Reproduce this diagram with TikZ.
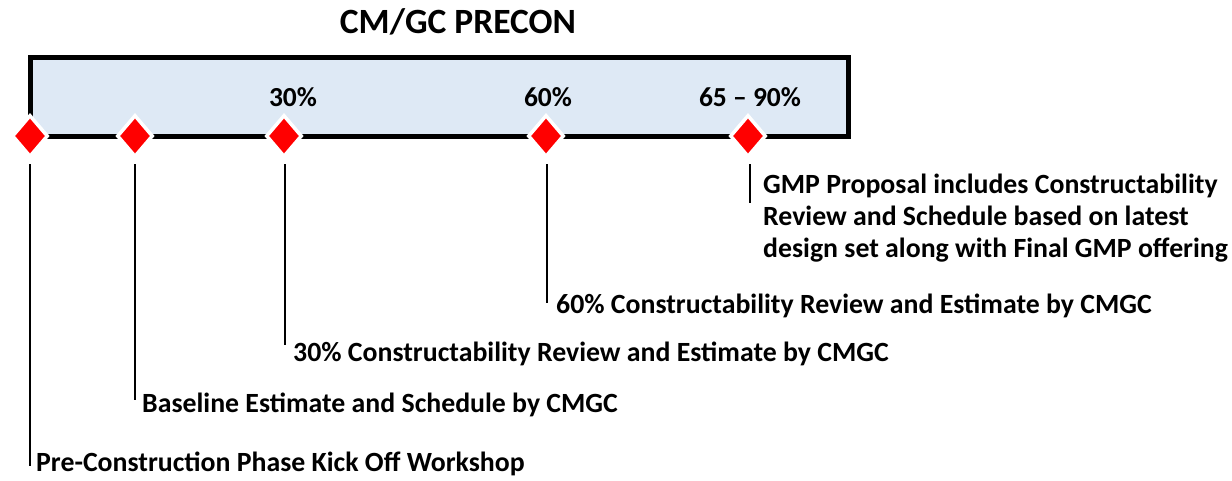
\documentclass[tikz,border=0pt]{standalone}
\usepackage{fontspec}
\setmainfont{Carlito}
\usetikzlibrary{shapes.geometric}
\definecolor{boxfill}{HTML}{DEE9F5}
\definecolor{msred}{HTML}{FF0000}
\tikzset{
  ms/.style={diamond, fill=msred, draw=white, line width=3.5pt, minimum width=36pt, minimum height=42pt, inner sep=0pt},
  lead/.style={line width=2.5pt, black},
  desc/.style={anchor=base west, inner sep=0pt, font=\bfseries\fontsize{27.8}{32}\selectfont, align=left},
  pct/.style={anchor=base, inner sep=0pt, font=\bfseries\fontsize{27.5}{32}\selectfont},
}
\begin{document}
\begin{tikzpicture}[x=1pt, y=-1pt]
\useasboundingbox (0,0) rectangle (1232,480);
\node[anchor=base, inner sep=0pt, font=\bfseries\fontsize{35.5}{40}\selectfont] (title) at (458,33) {CM/GC PRECON};
\draw[line width=5pt, fill=boxfill] (30,57) rectangle (848,136);
\node[pct] (p30) at (293,106) {30\%};
\node[pct] (p60) at (548,106) {60\%};
\node[pct] (p65) at (750,106) {65 -- 90\%};
\node[ms] (d1) at (30,136) {};
\node[ms] (d2) at (135,136) {};
\node[ms] (d3) at (284,136) {};
\node[ms] (d4) at (546,136) {};
\node[ms] (d5) at (748,136) {};
\coordinate (e1) at (30,466);
\coordinate (e2) at (135,400);
\coordinate (e3) at (285,345);
\coordinate (e4) at (547,303);
\coordinate (e5) at (750,203);
\coordinate (s1) at (30,164);
\coordinate (s2) at (135,164);
\coordinate (s3) at (285,164);
\coordinate (s4) at (547,164);
\coordinate (s5) at (750,164);
\draw[lead] (s1) -- (e1);
\draw[lead] (s2) -- (e2);
\draw[lead] (s3) -- (e3);
\draw[lead] (s4) -- (e4);
\draw[lead] (s5) -- (e5);
\node[desc] (t1) at (36,471) {Pre-Construction Phase Kick Off Workshop};
\node[desc] (t2) at (142,412) {Baseline Estimate and Schedule by CMGC};
\node[desc] (t3) at (293,361) {30\% Constructability Review and Estimate by CMGC};
\node[desc] (t4) at (556,313) {60\% Constructability Review and Estimate by CMGC};
\node[desc] (t5) at (763,257) {GMP Proposal includes Constructability\\Review and Schedule based on latest\\design set along with Final GMP offering};
\end{tikzpicture}
\end{document}
